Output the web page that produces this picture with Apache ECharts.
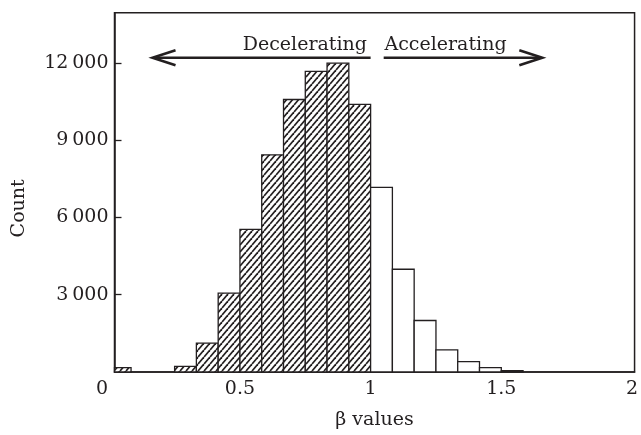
<!DOCTYPE html>
<html><head><meta charset="utf-8">
<script src="https://cdn.jsdelivr.net/npm/echarts@6/dist/echarts.min.js"></script>
<style>html,body{margin:0;padding:0;background:#fff}#c{width:641px;height:435px}</style>
</head><body><div id="c"></div>
<script>
// ---- data ----
const binWidth = 0.083333;
const decelBins   = [0, 0.0833, 0.1667, 0.25, 0.3333, 0.4167, 0.5, 0.5833, 0.6667, 0.75, 0.8333, 0.9167];
const decelCounts = [170, 0, 0, 220, 1120, 3060, 5540, 8430, 10580, 11670, 11990, 10390];
const accelBins   = [1.0, 1.0833, 1.1667, 1.25, 1.3333, 1.4167, 1.5];
const accelCounts = [7170, 3990, 2000, 860, 400, 170, 55];
const xTickValues = [0.02, 0.5, 1, 1.5, 2];
const yTickValues = [3000, 6000, 9000, 12000];
const arrowData = [[1.0, 0.1655, 12200], [1.05, 1.657, 12200]];       // from, to(tip), y
const arrowLabels = [['Decelerating', 0.986, 12700, 'right'], ['Accelerating', 1.053, 12700, 'left']];

const INK = '#231f20';
const FONT = '"DejaVu Serif", serif';

// hatch pattern
function makeHatch() {
  const w = 6, h = 7;
  const c = document.createElement('canvas');
  c.width = w; c.height = h;
  const g = c.getContext('2d');
  g.fillStyle = '#fff'; g.fillRect(0, 0, w, h);
  g.strokeStyle = INK; g.lineWidth = 1.7;
  for (let k = -1; k <= 1; k++) {
    g.beginPath(); g.moveTo(k * w, h); g.lineTo(k * w + w, 0); g.stroke();
  }
  return c;
}
const hatch = { image: makeHatch(), repeat: 'repeat' };

function histItem(fill) {
  return function (params, api) {
    const x0 = api.value(0), cnt = api.value(1);
    if (!cnt) return null;
    const p0 = api.coord([x0, 0]);
    const p1 = api.coord([x0 + binWidth, cnt]);
    const cs = params.coordSys;
    const rect = echarts.graphic.clipRectByRect(
      { x: p0[0], y: p1[1], width: p1[0] - p0[0], height: p0[1] - p1[1] },
      { x: cs.x, y: cs.y, width: cs.width, height: cs.height });
    if (!rect) return null;
    return { type: 'rect', shape: rect, style: { fill: fill, stroke: INK, lineWidth: 1.3 } };
  };
}

const chart = echarts.init(document.getElementById('c'), null, { renderer: 'canvas' });
chart.setOption({
  animation: false,
  backgroundColor: '#fff',
  grid: { left: 114.5, right: 4, top: 12.7, bottom: 58.3, show: true, borderColor: INK, borderWidth: 1.5 },
  xAxis: {
    type: 'value', min: 0.02, max: 2.01,
    name: 'β values', nameLocation: 'middle', nameGap: 39,
    nameTextStyle: { fontFamily: FONT, fontSize: 19, color: INK },
    axisLine: { show: true, lineStyle: { color: INK, width: 1.5 } },
    axisTick: { show: false },
    splitLine: { show: false },
    axisLabel: {
      customValues: xTickValues, margin: 8,
      fontFamily: FONT, fontSize: 19, color: INK,
      formatter: v => v < 0.1 ? '{z|0}' : String(v),
      rich: { z: { fontFamily: FONT, fontSize: 19, color: INK, padding: [0, 25, 0, 0] } }
    }
  },
  yAxis: {
    type: 'value', min: 0, max: 13950,
    name: 'Count', nameLocation: 'middle', nameGap: 86,
    nameTextStyle: { fontFamily: FONT, fontSize: 19, color: INK, padding: [0, 32, 0, 0] },
    axisLine: { show: true, lineStyle: { color: INK, width: 1.5 } },
    axisTick: { show: true, inside: true, length: 7, customValues: yTickValues, lineStyle: { color: INK, width: 1.3 } },
    splitLine: { show: false },
    axisLabel: {
      customValues: yTickValues, margin: 6,
      fontFamily: FONT, fontSize: 19, color: INK,
      formatter: v => String(v).replace(/\B(?=(\d{3})+(?!\d))/g, '\u2009')
    }
  },
  series: [
    { type: 'custom', name: 'decel', renderItem: histItem(hatch),
      data: decelBins.map((b, i) => [b, decelCounts[i]]), encode: { x: 0, y: 1 } },
    { type: 'custom', name: 'accel', renderItem: histItem('#fff'),
      data: accelBins.map((b, i) => [b, accelCounts[i]]), encode: { x: 0, y: 1 } },
    { type: 'custom', name: 'arrows', clip: false,
      data: arrowData, encode: { x: [0, 1], y: 2 },
      renderItem: function (params, api) {
        const a = api.coord([api.value(0), api.value(2)]);
        const b = api.coord([api.value(1), api.value(2)]);
        const d = b[0] > a[0] ? 1 : -1;
        return { type: 'group', children: [
          { type: 'line', shape: { x1: a[0], y1: a[1], x2: b[0] - d * 2, y2: b[1] }, style: { stroke: INK, lineWidth: 2.6 } },
          { type: 'polyline', shape: { points: [[b[0] - d * 23, b[1] - 7.5], [b[0], b[1]], [b[0] - d * 23, b[1] + 7.5]] },
            style: { stroke: INK, lineWidth: 2.6, fill: null, lineJoin: 'miter' } }
        ] };
      } },
    { type: 'custom', name: 'labels', clip: false,
      data: arrowLabels.map(l => [l[1], l[2]]), encode: { x: 0, y: 1 },
      renderItem: function (params, api) {
        const l = arrowLabels[params.dataIndex];
        const p = api.coord([api.value(0), api.value(1)]);
        return { type: 'text', x: p[0], y: p[1],
          style: { text: l[0], align: l[3], verticalAlign: 'middle', fill: INK, font: '19px "DejaVu Serif", serif' } };
      } }
  ]
});
</script></body></html>
